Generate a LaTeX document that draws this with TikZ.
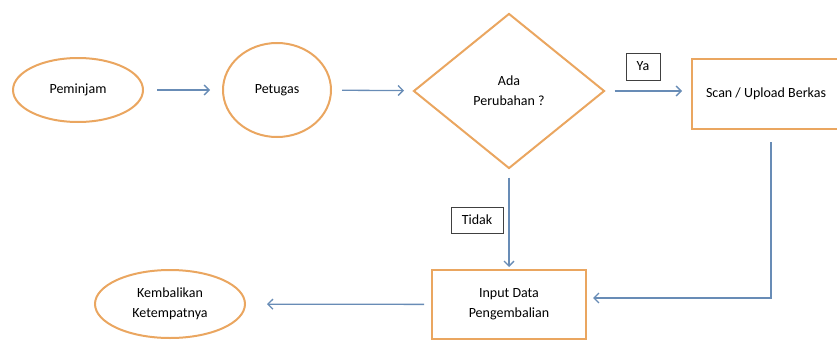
\documentclass[tikz,border=0pt]{standalone}
\usepackage{fontspec}
\setmainfont{Carlito}
\usetikzlibrary{shapes.geometric,arrows.meta,positioning}
\definecolor{myorange}{RGB}{234,166,96}
\definecolor{myblue}{RGB}{104,140,182}

\begin{document}
\begin{tikzpicture}[x=1pt,y=-1pt,
    oval/.style={ellipse,draw=myorange,line width=2pt,inner sep=0pt,align=center,font=\fontsize{14}{20}\selectfont},
    box/.style={rectangle,draw=myorange,line width=2pt,inner sep=0pt,align=center,font=\fontsize{14}{20}\selectfont},
    decision/.style={diamond,draw=myorange,line width=2pt,inner sep=0pt,align=center,font=\fontsize{14}{20}\selectfont},
    tag/.style={rectangle,draw=black!75,line width=0.9pt,inner sep=0pt,font=\fontsize{14}{16}\selectfont},
    arrow/.style={-{Straight Barb[length=5pt,width=10pt]},myblue,line width=1.3pt}
]
    \useasboundingbox (0,0) rectangle (837,340);
    \clip (0,0) rectangle (837,340);

    % Top row
    \node[oval,minimum width=130,minimum height=64] (peminjam) at (78,90) {Peminjam};
    \node[oval,minimum width=108,minimum height=94] (petugas) at (277,90) {Petugas};
    \node[decision,minimum width=191,minimum height=155] (ada) at (509,91) {Ada\\Perubahan ?};
    \node[box,minimum width=148,minimum height=70] (scan) at (766,94) {Scan / Upload Berkas};

    % Bottom row
    \node[box,minimum width=154,minimum height=69] (input) at (509,304.5) {Input Data\\Pengembalian};
    \node[oval,minimum width=150,minimum height=68] (kembali) at (170,304) {Kembalikan\\Ketempatnya};

    % Branch labels
    \node[tag,minimum width=34,minimum height=27] (ya) at (643,66.5) {Ya};
    \node[tag,minimum width=52,minimum height=26] (tidak) at (477,220) {Tidak};

    % Connectors
    \draw[arrow,shorten <=13pt,shorten >=12pt] (peminjam) -- (petugas);
    \draw[arrow,shorten <=10pt,shorten >=9pt] (petugas) -- (ada);
    \draw[arrow,shorten <=9pt,shorten >=9pt] (ada.east) -- (ada.east -| scan.west);
    \draw[arrow,shorten <=8pt,shorten >=2pt] (ada.south) -- (input.north);
    \coordinate (bend) at (771,298);
    \draw[arrow,shorten <=12pt,shorten >=6pt] (scan.south -| bend) -- (bend) -- (input.east |- bend);
    \draw[arrow,shorten <=7pt,shorten >=21pt] (input) -- (kembali);
\end{tikzpicture}
\end{document}
